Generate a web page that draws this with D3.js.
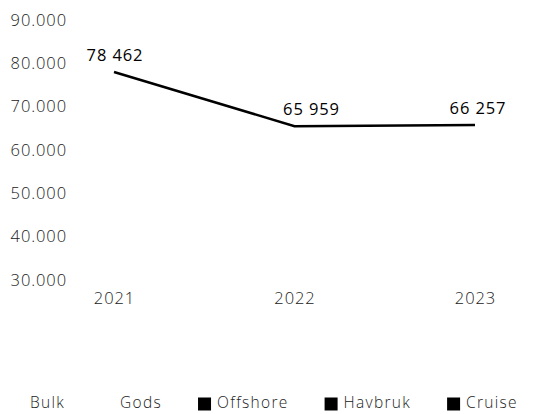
<!DOCTYPE html>
<html>
<head>
<meta charset="utf-8">
<script src="https://cdn.jsdelivr.net/npm/d3@7"></script>
<style>
  html, body { margin: 0; padding: 0; background: #fff; }
  svg { display: block; }
  text { font-family: "Open Sans", "DejaVu Sans", sans-serif; }
</style>
</head>
<body>
<svg id="chart" width="534" height="414"></svg>
<script>
// ---- data ----
const years = ["2021", "2022", "2023"];
const values = [78462, 65959, 66257];
const yTicks = [30000, 40000, 50000, 60000, 70000, 80000, 90000];
const legendNames = ["Bulk", "Gods", "Offshore", "Havbruk", "Cruise"];
const legendColors = ["#ffffff", "#ffffff", "#000000", "#000000", "#000000"];

const svg = d3.select("#chart");
const FS = 16.5, LS = 0.9;

const x = d3.scalePoint().domain(years).range([114, 475]);
const y = d3.scaleLinear().domain([30000, 90000]).range([282, 22]);

const fmtTick = v => d3.format(",")(v).replace(/,/g, ".");
const fmtLabel = v => d3.format(",")(v).replace(/,/g, " ");

function styleText(sel, weight, fill, fs = FS, ls = LS) {
  sel.attr("font-size", fs).attr("font-weight", weight).attr("fill", fill)
    .attr("letter-spacing", ls)
    .style("font-family", "'Open Sans', sans-serif");
}

// y axis labels
const yAxis = d3.axisLeft(y).tickValues(yTicks).tickFormat(fmtTick).tickSize(0).tickPadding(0);
const gy = svg.append("g").attr("transform", "translate(67,-2)").call(yAxis);
gy.select(".domain").remove();
styleText(gy.selectAll("text"), 300, "#222");

// x axis labels
const xAxis = d3.axisBottom(x).tickSize(0).tickPadding(0);
const gx = svg.append("g").attr("transform", "translate(0,292)").call(xAxis);
gx.select(".domain").remove();
styleText(gx.selectAll("text"), 300, "#222");

// line
const line = d3.line().x((d, i) => x(years[i])).y(d => y(d));
svg.append("path")
  .datum(values)
  .attr("d", line)
  .attr("fill", "none")
  .attr("stroke", "#000")
  .attr("stroke-width", 2.5);

// data labels
const labelDx = [1, 17, 3];
svg.append("g").selectAll("text")
  .data(values)
  .join("text")
  .attr("x", (d, i) => x(years[i]) + labelDx[i])
  .attr("y", d => y(d) - 11)
  .attr("text-anchor", "middle")
  .call(styleText, 400, "#000")
  .text(fmtLabel);

// legend
const lg = svg.append("g").attr("transform", "translate(0,403)");
let cx = 11;
legendNames.forEach((name, i) => {
  const item = lg.append("g").attr("transform", `translate(${cx},0)`);
  item.append("rect").attr("x", 0).attr("y", -5.5).attr("width", 13).attr("height", 13)
    .attr("fill", legendColors[i]);
  const t = item.append("text").attr("x", 19).attr("dy", "0.35em").text(name);
  styleText(t, 300, "#222", 15.5, 1.3);
  const w = t.node().getComputedTextLength();
  cx += 19 + w + 36;
});
</script>
</body>
</html>
